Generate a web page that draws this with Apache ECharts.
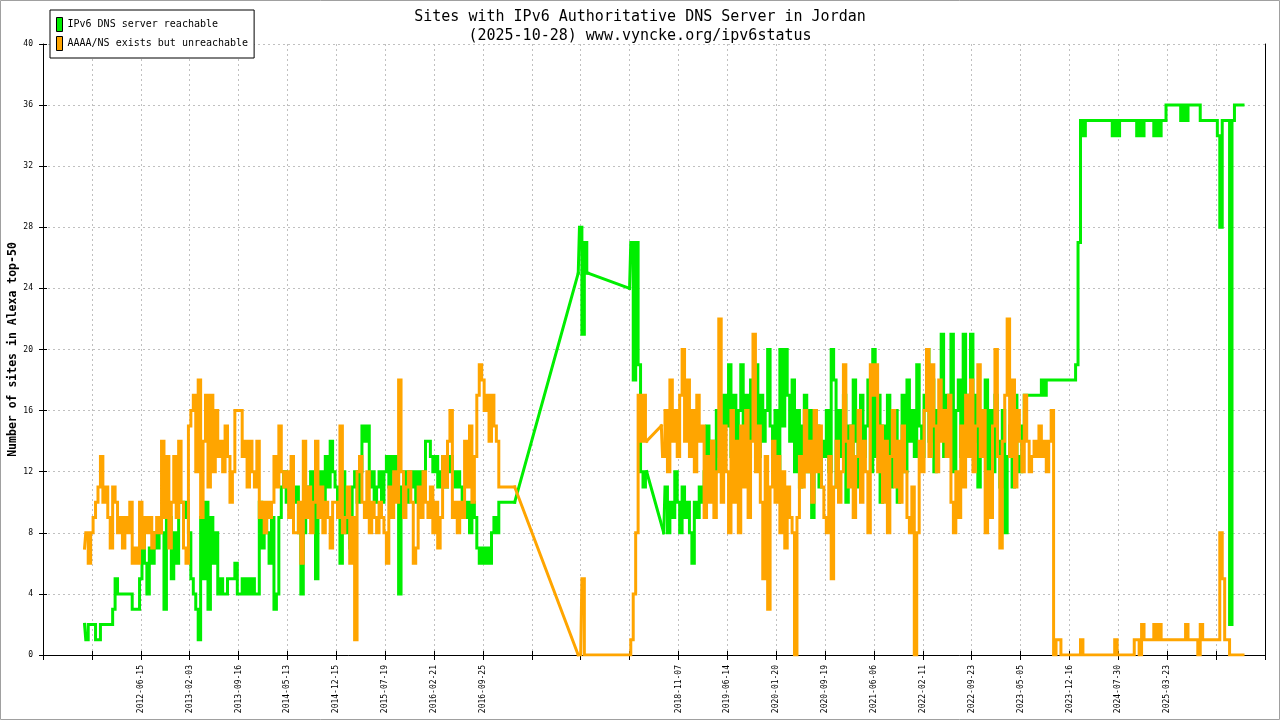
<!DOCTYPE html>
<html>
<head>
<meta charset="utf-8">
<script src="https://cdn.jsdelivr.net/npm/echarts@6/dist/echarts.min.js"></script>
<style>
  html, body { margin: 0; padding: 0; background: #fff; }
  #chart { width: 1280px; height: 720px; }
</style>
</head>
<body>
<div id="chart"></div>
<script>
// ---- Data (x = sample index along the time line, 20 samples per tick) ----
const tickLabels = ['', '', '2012-06-15', '2013-02-03', '2013-09-16', '2014-05-13', '2014-12-15',
  '2015-07-19', '2016-02-21', '2016-09-25', '', '', '', '2018-11-07', '2019-06-14', '2020-01-20',
  '2020-09-19', '2021-06-06', '2022-02-11', '2022-09-23', '2023-05-05', '2023-12-16', '2024-07-30',
  '2025-03-23', '', ''];

const seriesNames = ['IPv6 DNS server reachable', 'AAAA/NS exists but unreachable'];

// "IPv6 DNS server reachable" -- segments with their first sample index
const reachableStarts = [17, 219, 240, 254];
const reachableEarly = [
  2,1,2,
  2,2,1,1,2,2,2,2,2,3,5,4,4,4,4,4,4,3,3,3,
  5,8,6,4,7,6,8,7,8,8,3,10,9,5,8,6,10,10,9,10,
  8,5,4,3,1,9,5,10,3,9,6,8,4,5,4,4,5,5,5,6,
  4,4,5,4,5,4,5,4,4,10,7,9,8,6,9,3,4,9,11,12,
  10,11,12,10,11,8,4,8,9,11,12,10,5,11,12,10,13,11,14,12,
  11,9,6,12,8,10,7,11,12,10,12,15,14,15,11,12,10,11,12,10,
  12,13,11,13,12,13,4,11,12,10,12,11,12,10,12,11,12,14,14,13,
  12,13,11,12,13,11,12,13,12,11,12,11,10,9,10,8,10,9,7,6,
  7,6,7,6,8,9,8,10,10,10,10,10,10,10
];
const reachableJump = [25,28,21,27,25];
const reachableDrop = [24,27,18,27,19,12,11,12];
const reachableLate = [
  8,11,8,10,9,12,
  10,8,11,9,10,8,6,10,9,11,10,12,15,11,14,12,16,13,14,17,
  15,19,13,17,12,16,19,14,17,13,18,15,19,13,17,14,16,20,15,13,
  16,12,20,15,20,17,14,18,12,16,11,15,17,12,16,9,13,15,11,14,
  13,16,12,20,18,11,16,13,17,10,15,12,18,14,11,17,13,15,18,12,
  20,13,17,10,15,12,17,11,14,16,10,13,17,12,18,14,16,13,19,15,
  13,17,20,14,18,12,16,15,21,13,17,14,21,12,16,18,13,21,15,17,
  21,14,17,11,15,13,18,10,16,12,17,14,11,16,8,13,15,11,17,13,
  12,15,17,17,17,17,17,17,17,18,17,18,18,18,18,18,18,18,18,18,
  18,18,18,19,27,35,34,35,35,35,35,35,35,35,35,35,35,35,34,35,
  34,35,35,35,35,35,35,35,34,35,34,35,35,35,35,34,35,34,35,35,
  36,36,36,36,36,36,35,36,35,36,36,36,36,36,35,35,35,35,35,35,
  35,34,28,35,35,35,2,35,36,36,36,36
];

// "AAAA/NS exists but unreachable" -- segments with their first sample index
const unreachableStarts = [17, 219, 253];
const unreachableEarly = [
  7,8,6,
  8,9,10,11,13,10,11,9,7,11,10,8,9,7,9,8,10,6,7,6,
  10,7,9,8,9,7,8,9,8,14,9,13,7,10,13,9,14,10,7,6,
  15,16,17,12,18,9,14,17,11,17,12,16,13,14,12,15,13,10,12,16,
  16,16,13,14,11,14,12,11,14,9,10,8,10,9,10,13,11,15,12,11,
  12,9,13,8,8,10,6,14,9,11,8,10,14,9,11,8,10,9,7,10,
  10,9,15,8,9,11,6,9,1,12,13,10,9,12,8,10,9,8,10,9,
  8,6,11,9,12,10,18,12,9,11,12,10,6,7,11,9,12,10,9,11,
  8,10,7,9,13,11,14,16,9,10,8,10,9,14,11,15,10,13,17,19,
  18,16,17,14,17,15,14,11,11,11,11,11,11,11
];
const unreachableGap = [
  0,0,5,0,
  0,0,0,0,0,0,0,0,0,0,0,0,0,0,0,0,0,0,
  1,4,8,17,14,17,14
];
const unreachableLate = [
  15,13,16,12,18,14,16,
  13,17,20,14,18,13,16,12,17,14,15,9,13,10,14,9,12,22,10,15,
  12,8,16,10,14,8,15,11,16,9,14,21,12,15,10,5,13,3,11,14,
  10,13,8,12,7,11,9,8,0,9,13,11,16,12,14,10,16,12,15,11,
  9,8,13,5,11,14,10,12,19,14,11,15,9,13,16,10,14,12,8,19,
  17,19,12,15,10,14,8,13,16,11,14,10,15,12,9,8,11,0,8,14,
  12,16,20,13,19,15,12,18,14,16,13,17,10,8,12,9,15,11,17,13,
  18,12,15,19,13,16,8,12,9,15,20,13,7,14,17,22,13,18,11,16,
  14,12,17,14,12,13,14,13,15,13,14,12,14,16,0,1,1,0,0,0,
  0,0,0,0,0,1,0,0,0,0,0,0,0,0,0,0,0,0,0,1,
  0,0,0,0,0,0,0,1,1,0,2,1,1,1,1,2,1,2,1,1,
  1,1,1,1,1,1,1,1,2,1,1,1,1,0,2,1,1,1,1,1,
  1,1,8,5,1,1,0,0,0,0,0,0
];

// ---- Build point lists from the segments ----
function buildRun(start, seg) {
  return seg.map((v, i) => [start + i, v]);
}
// straight connectors across the periods without samples
function buildLinks(starts, segments) {
  const pts = [];
  for (let s = 0; s < segments.length - 1; s++) {
    const a = segments[s], b = segments[s + 1];
    pts.push([starts[s] + a.length - 1, a[a.length - 1]]);
    pts.push([starts[s + 1], b[0]]);
    pts.push([starts[s + 1] + 0.1, '-']);
  }
  return pts;
}
const reachableSegs = [reachableEarly, reachableJump, reachableDrop, reachableLate];
const unreachableSegs = [unreachableEarly, unreachableGap, unreachableLate];

const MONO = "'DejaVu Sans Mono', 'Liberation Mono', monospace";
const GREEN = '#00ee00';
const ORANGE = '#ffa500';
const GRID_LINE = { show: true, lineStyle: { color: '#c0c0c0', width: 1, type: [2, 3] } };

function lineSeries(name, data, color, z, step) {
  return {
    name, type: 'line', xAxisIndex: 0, yAxisIndex: 0, data,
    step: step ? 'middle' : false, connectNulls: false,
    showSymbol: false, symbol: 'none', sampling: null,
    lineStyle: { color, width: 3, join: 'miter', cap: 'square' },
    itemStyle: { color }, z
  };
}

const series = [];
series.push(lineSeries(seriesNames[0], buildLinks(reachableStarts, reachableSegs), GREEN, 2, false));
reachableSegs.forEach((seg, s) =>
  series.push(lineSeries(seriesNames[0], buildRun(reachableStarts[s], seg), GREEN, 2, true)));
series.push(lineSeries(seriesNames[1], buildLinks(unreachableStarts, unreachableSegs), ORANGE, 3, false));
unreachableSegs.forEach((seg, s) =>
  series.push(lineSeries(seriesNames[1], buildRun(unreachableStarts[s], seg), ORANGE, 3, true)));

const chart = echarts.init(document.getElementById('chart'), null, { renderer: 'canvas' });
chart.setOption({
  animation: false,
  backgroundColor: '#fff',
  title: {
    text: 'Sites with IPv6 Authoritative DNS Server in Jordan\n(2025-10-28) www.vyncke.org/ipv6status',
    left: 'center',
    top: 3,
    textStyle: { fontFamily: MONO, fontSize: 15, fontWeight: 'normal', lineHeight: 19, color: '#000', align: 'center' }
  },
  legend: {
    data: seriesNames,
    orient: 'vertical',
    left: 50,
    top: 10,
    padding: [7, 6, 7, 6],
    itemGap: 4,
    itemWidth: 6,
    itemHeight: 14,
    icon: 'rect',
    borderColor: '#000',
    borderWidth: 1,
    backgroundColor: '#fff',
    itemStyle: { borderColor: '#000', borderWidth: 1 },
    textStyle: { fontFamily: MONO, fontSize: 10, color: '#000' }
  },
  grid: { left: 43, right: 15, top: 44, bottom: 65, containLabel: false, outerBoundsMode: 'none' },
  xAxis: [
    {
      type: 'value', min: 0, max: 500, interval: 20, position: 'bottom',
      axisLine: { show: true, onZero: false, lineStyle: { color: '#000', width: 1 } },
      axisTick: { show: true, inside: false, length: 5, lineStyle: { color: '#000' } },
      axisLabel: {
        rotate: 90, fontFamily: MONO, fontSize: 8, color: '#000', margin: 10,
        showMinLabel: true, showMaxLabel: true,
        formatter: v => tickLabels[Math.round(v / 20)] || ''
      },
      splitLine: GRID_LINE
    },
    {
      type: 'value', min: 0, max: 500, interval: 20, position: 'bottom',
      axisLine: { show: false, onZero: false },
      axisTick: { show: true, inside: true, length: 4, lineStyle: { color: '#000' } },
      axisLabel: { show: false },
      splitLine: { show: false }
    }
  ],
  yAxis: [
    {
      type: 'value', min: 0, max: 40, interval: 4, position: 'left',
      name: 'Number of sites in Alexa top-50',
      nameLocation: 'middle',
      nameGap: 24,
      nameMoveOverlap: false,
      nameTextStyle: { fontFamily: MONO, fontSize: 11.5, fontWeight: 'bold', color: '#000' },
      axisLine: { show: true, lineStyle: { color: '#000', width: 1 } },
      axisTick: { show: true, inside: false, length: 4, lineStyle: { color: '#000' } },
      axisLabel: { fontFamily: MONO, fontSize: 8, color: '#000', margin: 10 },
      splitLine: GRID_LINE
    },
    {
      type: 'value', min: 0, max: 40, interval: 4, position: 'left',
      axisLine: { show: false },
      axisTick: { show: true, inside: true, length: 4, lineStyle: { color: '#000' } },
      axisLabel: { show: false },
      splitLine: { show: false }
    },
    {
      type: 'value', min: 0, max: 40, interval: 4, position: 'right',
      axisLine: { show: true, lineStyle: { color: '#000', width: 1 } },
      axisTick: { show: false },
      axisLabel: { show: false },
      splitLine: { show: false }
    }
  ],
  series,
  graphic: [
    {
      type: 'rect', silent: true, z: 100,
      shape: { x: 0.5, y: 0.5, width: 1279, height: 719 },
      style: { fill: 'none', stroke: '#a0a0a0', lineWidth: 1 }
    }
  ]
});
</script>
</body>
</html>
